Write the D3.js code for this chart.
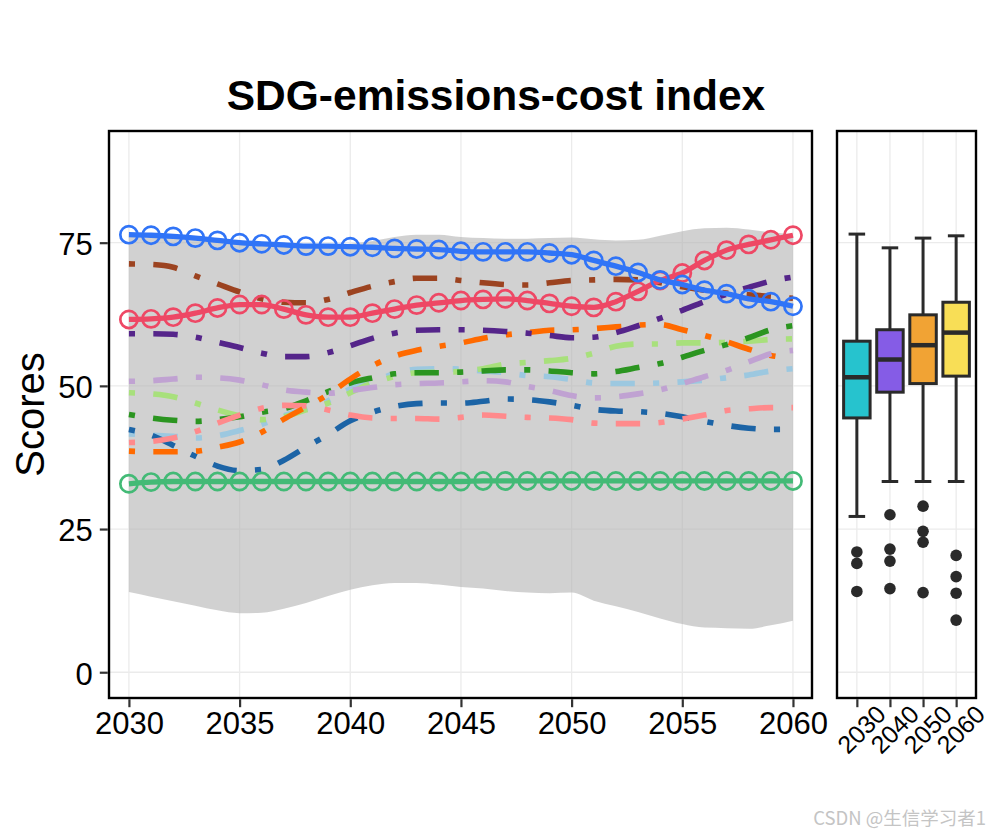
<!DOCTYPE html>
<html><head><meta charset="utf-8">
<script src="https://cdn.jsdelivr.net/npm/d3@7"></script>
<style>body{margin:0;background:#fff} svg{display:block}</style>
</head><body><svg id="c" width="992" height="836"></svg>
<script>
// ---------------- DATA ----------------
const years = [2030,2031,2032,2033,2034,2035,2036,2037,2038,2039,2040,2041,2042,2043,2044,2045,2046,2047,2048,2049,2050,2051,2052,2053,2054,2055,2056,2057,2058,2059,2060];
const xTicks = [2030,2035,2040,2045,2050,2055,2060];
const yTicks = [0,25,50,75];

const ribbonMax = [76.5,76.4,76.2,75.9,75.5,75.1,74.9,74.7,74.6,74.6,74.8, 75.3,76.0,76.4,76.4,76.0,75.8,75.7,75.7,75.8,75.9, 75.6,75.4,75.5,76.2,77.0,77.5,77.6,77.3,76.8,76.5];
const ribbonMin = [14.0,13.2,12.4,11.6,10.8,10.3,10.4,11.1,12.1,13.3,14.4, 15.2,15.6,15.6,15.3,14.9,14.6,14.2,13.9,13.8,13.9, 12.5,11.5,10.5,9.4,8.4,7.8,7.7,7.6,8.2,9.0];

// dot-dash scenario lines
const lightBlueLine = [41.6,41.4,41.2,40.9,41.3,42.2,43.3,44.8,46.0,47.4,49.5, 50.8,52.1,52.9,53.0,52.9,52.6,52.3,51.8,51.6,51.1, 50.5,50.4,50.4,50.5,50.7,51.0,51.4,51.9,52.6,53.0];
const darkBlueLine = [42.4,41.4,39.6,37.7,36.0,35.2,35.4,37.0,39.3,41.5,43.9, 45.4,46.4,46.9,47.0,47.0,47.3,47.7,47.6,47.2,46.6, 45.9,45.6,45.5,45.2,44.6,43.8,43.1,42.6,42.4,42.4];
const lightGreenLine = [48.8,48.6,48.1,47.0,45.8,44.8,44.1,44.6,45.8,47.0,48.8, 50.5,51.6,52.3,52.4,52.5,53.0,53.8,54.1,54.4,54.8, 55.7,56.9,57.3,57.3,57.5,57.5,57.6,57.8,58.1,58.2];
const greenLine = [45.0,44.4,44.0,43.8,44.1,44.6,45.4,46.0,47.4,49.0,50.5, 51.4,52.1,52.3,52.3,52.4,52.6,52.8,52.8,52.6,52.3, 52.1,52.5,53.2,53.9,55.0,56.2,57.2,58.4,59.8,60.5];
const pinkLine = [40.1,40.3,40.9,42.0,43.5,44.9,46.1,46.6,46.5,45.8,44.9, 44.4,44.3,44.3,44.2,44.5,44.9,44.7,44.5,44.4,44.1, 43.5,43.4,43.4,43.6,44.2,44.9,45.7,46.0,46.2,46.2];
const orangeLine = [38.6,38.5,38.5,38.6,39.3,40.2,41.9,44.2,46.3,48.5,51.2, 53.5,55.2,56.2,56.9,57.5,58.3,58.9,59.3,59.7,59.8, 60.0,60.3,60.6,60.7,59.8,58.8,57.7,56.4,55.3,54.8];
const lightPurpleLine = [50.8,50.9,51.2,51.5,51.4,51.0,50.2,49.3,48.9,48.7,49.2, 49.7,50.2,50.4,50.5,50.7,50.9,50.7,49.9,49.2,48.3, 47.9,48.1,48.6,49.3,50.4,51.6,52.7,54.2,55.6,56.2];
const purpleLine = [59.1,59.1,59.0,58.5,57.6,56.7,55.7,55.1,55.1,55.8,57.0, 58.3,59.2,59.7,59.8,59.8,59.7,59.5,59.2,58.8,58.4, 58.5,59.3,60.5,61.8,63.2,64.7,66.0,67.2,68.3,69.0];
const brownLine = [71.3,71.2,70.7,69.2,67.8,66.4,65.2,64.6,64.5,65.1,66.3, 67.4,68.2,68.8,68.8,68.4,68.0,67.7,67.6,68.0,68.4, 68.5,68.6,68.5,68.0,67.3,66.7,66.2,65.9,65.6,65.3];

// solid lines with open circles
const greenCircleLine = [32.9,33.2,33.3,33.3,33.3,33.3,33.3,33.3,33.3,33.3,33.3, 33.3,33.3,33.3,33.3,33.3,33.4,33.4,33.4,33.4,33.4, 33.4,33.4,33.4,33.4,33.4,33.4,33.4,33.4,33.4,33.4];
const redCircleLine = [61.6,61.7,62.0,62.7,63.6,64.2,64.2,63.4,62.4,62.0,62.0, 62.7,63.4,64.1,64.5,64.9,65.1,65.2,64.9,64.4,63.9, 63.7,64.7,66.5,68.4,69.7,71.9,73.7,74.7,75.5,76.3];
const blueCircleLine = [76.4,76.3,76.1,75.8,75.4,75.0,74.8,74.6,74.4,74.4,74.3, 74.2,74.0,73.9,73.8,73.5,73.4,73.4,73.4,73.2,72.9, 71.9,70.9,69.8,68.5,67.7,66.7,66.1,65.2,64.7,63.9];

// box plot summaries
const boxYears = ["2030","2040","2050","2060"];
const boxLow = [27.2,33.3,33.3,33.3];
const boxQ1 = [44.4,48.9,50.4,51.7];
const boxMedian = [51.5,54.6,57.1,59.3];
const boxQ3 = [57.8,59.8,62.4,64.6];
const boxHigh = [76.5,74.1,75.8,76.2];
const boxOutliers = [[21.0,19.0,14.1],[27.5,21.5,19.4,14.6],[29.0,24.6,22.7,13.9],[20.4,16.7,13.8,9.1]];

// ---------------- DRAW ----------------
const svg = d3.select("#c");
const FONT = "'Liberation Sans', Arial, Helvetica, sans-serif";
const L = {x0:109, x1:812, y0:131, y1:698};
const R = {x0:837, x1:976};

const x = d3.scaleLinear().domain([2029.1, 2060.86]).range([L.x0, L.x1]);
const y = d3.scaleLinear().domain([-4.5, 94.5]).range([L.y1, L.y0]);
const xb = d3.scalePoint().domain(boxYears).range([R.x0, R.x1]).padding(0.6);

// title
svg.append("text").attr("x", 496).attr("y", 110).attr("text-anchor","middle")
  .attr("font-family", FONT).attr("font-weight","bold").attr("font-size", 42.5).attr("fill","#000")
  .text("SDG-emissions-cost index");

// y label
svg.append("text").attr("transform", `translate(44,${(L.y0+L.y1)/2}) rotate(-90)`)
  .attr("text-anchor","middle").attr("font-family", FONT).attr("font-size", 40).attr("fill","#000")
  .text("Scores");

// ---- left panel ----
const gl = svg.append("g");
gl.append("g").selectAll("line").data(xTicks).join("line")
  .attr("x1", d=>x(d)).attr("x2", d=>x(d)).attr("y1", L.y0).attr("y2", L.y1)
  .attr("stroke","#EBEBEB").attr("stroke-width",1.3);
gl.append("g").selectAll("line").data(yTicks).join("line")
  .attr("x1", L.x0).attr("x2", L.x1).attr("y1", d=>y(d)).attr("y2", d=>y(d))
  .attr("stroke","#EBEBEB").attr("stroke-width",1.3);

const ribbon = years.map((yr,i)=>({yr, lo:ribbonMin[i], hi:ribbonMax[i]}));
gl.append("path").datum(ribbon)
  .attr("d", d3.area().x(d=>x(d.yr)).y0(d=>y(d.lo)).y1(d=>y(d.hi)).curve(d3.curveMonotoneX))
  .attr("fill","#B3B3B3").attr("fill-opacity",0.6);

const dashSeries = [
  {v: lightBlueLine, c:"#9CC8E0"},
  {v: darkBlueLine, c:"#1C64A6"},
  {v: lightGreenLine, c:"#A8E07C"},
  {v: greenLine, c:"#2B9520"},
  {v: pinkLine, c:"#FF8A8C"},
  {v: orangeLine, c:"#FF6A00"},
  {v: lightPurpleLine, c:"#C0A2D2"},
  {v: purpleLine, c:"#55258A"},
  {v: brownLine, c:"#9C4320"}
];
const lineGen = d3.line().x(d=>x(d[0])).y(d=>y(d[1])).curve(d3.curveMonotoneX);
dashSeries.forEach(s=>{
  gl.append("path").datum(years.map((yr,i)=>[yr, s.v[i]]))
    .attr("d", lineGen).attr("fill","none").attr("stroke", s.c)
    .attr("stroke-width",5.6).attr("stroke-dasharray","6.1 18.3 24.4 18.3").attr("stroke-linecap","butt");
});

const circleSeries = [
  {v: greenCircleLine, c:"#43BA76"},
  {v: redCircleLine, c:"#EE4865"},
  {v: blueCircleLine, c:"#3074F7"}
];
circleSeries.forEach(s=>{
  const pts = years.map((yr,i)=>[yr, s.v[i]]);
  gl.append("path").datum(pts).attr("d", lineGen).attr("fill","none")
    .attr("stroke", s.c).attr("stroke-width",5.3);
  gl.append("g").selectAll("circle").data(pts).join("circle")
    .attr("cx", d=>x(d[0])).attr("cy", d=>y(d[1])).attr("r", 8.6)
    .attr("fill","none").attr("stroke", s.c).attr("stroke-width",2.7);
});

// frame
gl.append("rect").attr("x",L.x0).attr("y",L.y0).attr("width",L.x1-L.x0).attr("height",L.y1-L.y0)
  .attr("fill","none").attr("stroke","#000").attr("stroke-width",2.4);

// axes
const yAx = svg.append("g").attr("transform",`translate(${L.x0-1.2},0)`)
  .call(d3.axisLeft(y).tickValues(yTicks).tickSize(8).tickPadding(7).tickFormat(d3.format("d")));
const xAx = svg.append("g").attr("transform",`translate(0,${L.y1+1.2})`)
  .call(d3.axisBottom(x).tickValues(xTicks).tickSize(8).tickPadding(5).tickFormat(d3.format("d")));
[yAx,xAx].forEach(a=>{
  a.select(".domain").remove();
  a.selectAll(".tick line").attr("stroke","#333").attr("stroke-width",2.2);
  a.selectAll(".tick text").attr("font-family",FONT).attr("font-size",31).attr("fill","#000");
});
yAx.selectAll(".tick text").attr("dy","0.38em");

// ---- right panel ----
const gr = svg.append("g");
gr.append("g").selectAll("line").data(boxYears).join("line")
  .attr("x1", d=>xb(d)).attr("x2", d=>xb(d)).attr("y1", L.y0).attr("y2", L.y1)
  .attr("stroke","#EBEBEB").attr("stroke-width",1.3);
gr.append("g").selectAll("line").data(yTicks).join("line")
  .attr("x1", R.x0).attr("x2", R.x1).attr("y1", d=>y(d)).attr("y2", d=>y(d))
  .attr("stroke","#EBEBEB").attr("stroke-width",1.3);

const boxColors = ["#26C3CE","#855CE6","#F1A334","#F8DE56"];
const step = xb.step();
const bw = step*0.8, cw = step*0.5;
boxYears.forEach((k,i)=>{
  const cx = xb(k);
  const g = gr.append("g");
  g.append("line").attr("x1",cx).attr("x2",cx).attr("y1",y(boxLow[i])).attr("y2",y(boxHigh[i]))
    .attr("stroke","#2A2A2A").attr("stroke-width",3);
  [boxLow[i], boxHigh[i]].forEach(v=>{
    g.append("line").attr("x1",cx-cw/2).attr("x2",cx+cw/2).attr("y1",y(v)).attr("y2",y(v))
      .attr("stroke","#2A2A2A").attr("stroke-width",3);
  });
  g.append("rect").attr("x",cx-bw/2).attr("width",bw).attr("y",y(boxQ3[i])).attr("height",y(boxQ1[i])-y(boxQ3[i]))
    .attr("fill",boxColors[i]).attr("stroke","#2A2A2A").attr("stroke-width",3);
  g.append("line").attr("x1",cx-bw/2).attr("x2",cx+bw/2).attr("y1",y(boxMedian[i])).attr("y2",y(boxMedian[i]))
    .attr("stroke","#2A2A2A").attr("stroke-width",4.5);
  g.selectAll("circle").data(boxOutliers[i]).join("circle")
    .attr("cx",cx).attr("cy",d=>y(d)).attr("r",5.8).attr("fill","#2A2A2A");
});
gr.append("rect").attr("x",R.x0).attr("y",L.y0).attr("width",R.x1-R.x0).attr("height",L.y1-L.y0)
  .attr("fill","none").attr("stroke","#000").attr("stroke-width",2.4);

const bAx = svg.append("g").attr("transform",`translate(0,${L.y1+1.2})`)
  .call(d3.axisBottom(xb).tickSize(8).tickFormat(d=>d));
bAx.select(".domain").remove();
bAx.selectAll(".tick line").attr("stroke","#333").attr("stroke-width",2.2);
bAx.selectAll(".tick text").attr("font-family",FONT).attr("font-size",25).attr("fill","#000")
  .attr("text-anchor","middle").attr("dy",null).attr("y",null)
  .attr("dominant-baseline","central")
  .attr("transform","translate(4,30) rotate(-45)");

// watermark
svg.append("text").attr("x",986).attr("y",825).attr("text-anchor","end")
  .attr("font-family","'Noto Sans CJK SC', 'Noto Sans', sans-serif").attr("font-size",18.5).attr("fill","#C4C4C4")
  .text("CSDN @生信学习者1");
</script></body></html>
